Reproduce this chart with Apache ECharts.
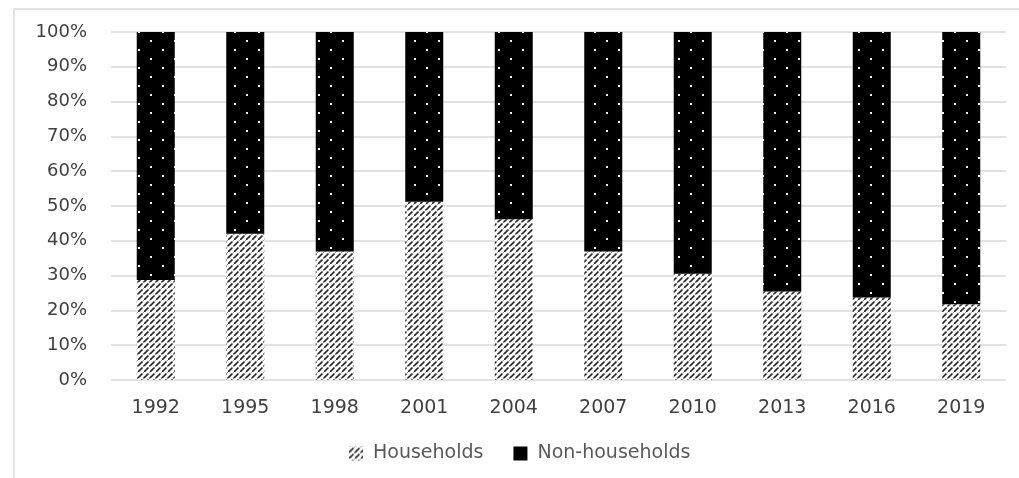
<!DOCTYPE html>
<html>
<head>
<meta charset="utf-8">
<script src="https://cdn.jsdelivr.net/npm/echarts@6/dist/echarts.min.js"></script>
<style>
html, body { margin: 0; padding: 0; background: #fff; }
#main { width: 1019px; height: 478px; }
</style>
</head>
<body>
<div id="main"></div>
<script>
var years = ['1992', '1995', '1998', '2001', '2004', '2007', '2010', '2013', '2016', '2019'];
var households = [28.7, 42.0, 36.9, 51.2, 46.2, 36.9, 30.5, 25.4, 23.7, 21.8];
var nonHouseholds = [71.3, 58.0, 63.1, 48.8, 53.8, 63.1, 69.5, 74.6, 76.3, 78.2];

// hatch pattern for households (broken diagonal strokes)
function hatchPattern() {
	var c = document.createElement('canvas');
	c.width = 6;
	c.height = 12;
	var ctx = c.getContext('2d');
	ctx.fillStyle = '#ffffff';
	ctx.fillRect(0, 0, 6, 12);
	ctx.strokeStyle = '#262626';
	ctx.lineWidth = 1.7;
	ctx.beginPath();
	ctx.moveTo(0, 6);
	ctx.lineTo(4.5, 1.5);
	ctx.moveTo(0, 12);
	ctx.lineTo(4.5, 7.5);
	ctx.moveTo(5.5, 6.5);
	ctx.lineTo(7, 5);
	ctx.moveTo(5.5, 0.5);
	ctx.lineTo(7, -1);
	ctx.stroke();
	return c;
}

// dotted black pattern for non-households
function dotPattern() {
	var c = document.createElement('canvas');
	c.width = 24;
	c.height = 18;
	var ctx = c.getContext('2d');
	ctx.fillStyle = '#000000';
	ctx.fillRect(0, 0, 24, 18);
	ctx.fillStyle = '#ffffff';
	ctx.fillRect(6, 4, 2, 2);
	ctx.fillRect(18, 13, 2, 2);
	return c;
}

var hatch = { image: hatchPattern(), repeat: 'repeat' };
var dots = { image: dotPattern(), repeat: 'repeat' };

var myChart = echarts.init(document.getElementById('main'));
var option = {
	animation: false,
	backgroundColor: '#ffffff',
	graphic: [{
		type: 'rect',
		shape: { x: 14, y: 9, width: 1020, height: 480 },
		style: { fill: 'none', stroke: '#d9d9d9', lineWidth: 1.5 },
		silent: true
	}],
	legend: {
		left: 344,
		top: 439,
		itemWidth: 14,
		itemHeight: 14,
		itemGap: 30,
		textStyle: {
			color: '#595959',
			fontSize: 19,
			fontFamily: 'DejaVu Sans',
			padding: [0, 0, 0, 5]
		},
		data: [
			{ name: 'Households', icon: 'rect' },
			{ name: 'Non-households', icon: 'rect', itemStyle: { color: '#000000' } }
		]
	},
	grid: {
		left: 111,
		right: 13,
		top: 32,
		bottom: 98
	},
	xAxis: {
		type: 'category',
		data: years,
		axisLine: { show: false },
		axisTick: { show: false },
		axisLabel: {
			color: '#404040',
			fontSize: 19,
			fontFamily: 'DejaVu Sans',
			margin: 19
		}
	},
	yAxis: {
		type: 'value',
		min: 0,
		max: 100,
		interval: 10,
		axisLine: { show: false },
		axisTick: { show: false },
		axisLabel: {
			formatter: '{value}%',
			color: '#404040',
			fontSize: 18,
			fontFamily: 'DejaVu Sans',
			margin: 24
		},
		splitLine: {
			lineStyle: { color: '#d9d9d9', width: 1.5 }
		}
	},
	series: [{
		name: 'Households',
		type: 'bar',
		stack: 'total',
		barWidth: 38,
		itemStyle: { color: hatch },
		data: households
	}, {
		name: 'Non-households',
		type: 'bar',
		stack: 'total',
		barWidth: 38,
		itemStyle: { color: dots },
		data: nonHouseholds
	}]
};
myChart.setOption(option);
</script>
</body>
</html>
